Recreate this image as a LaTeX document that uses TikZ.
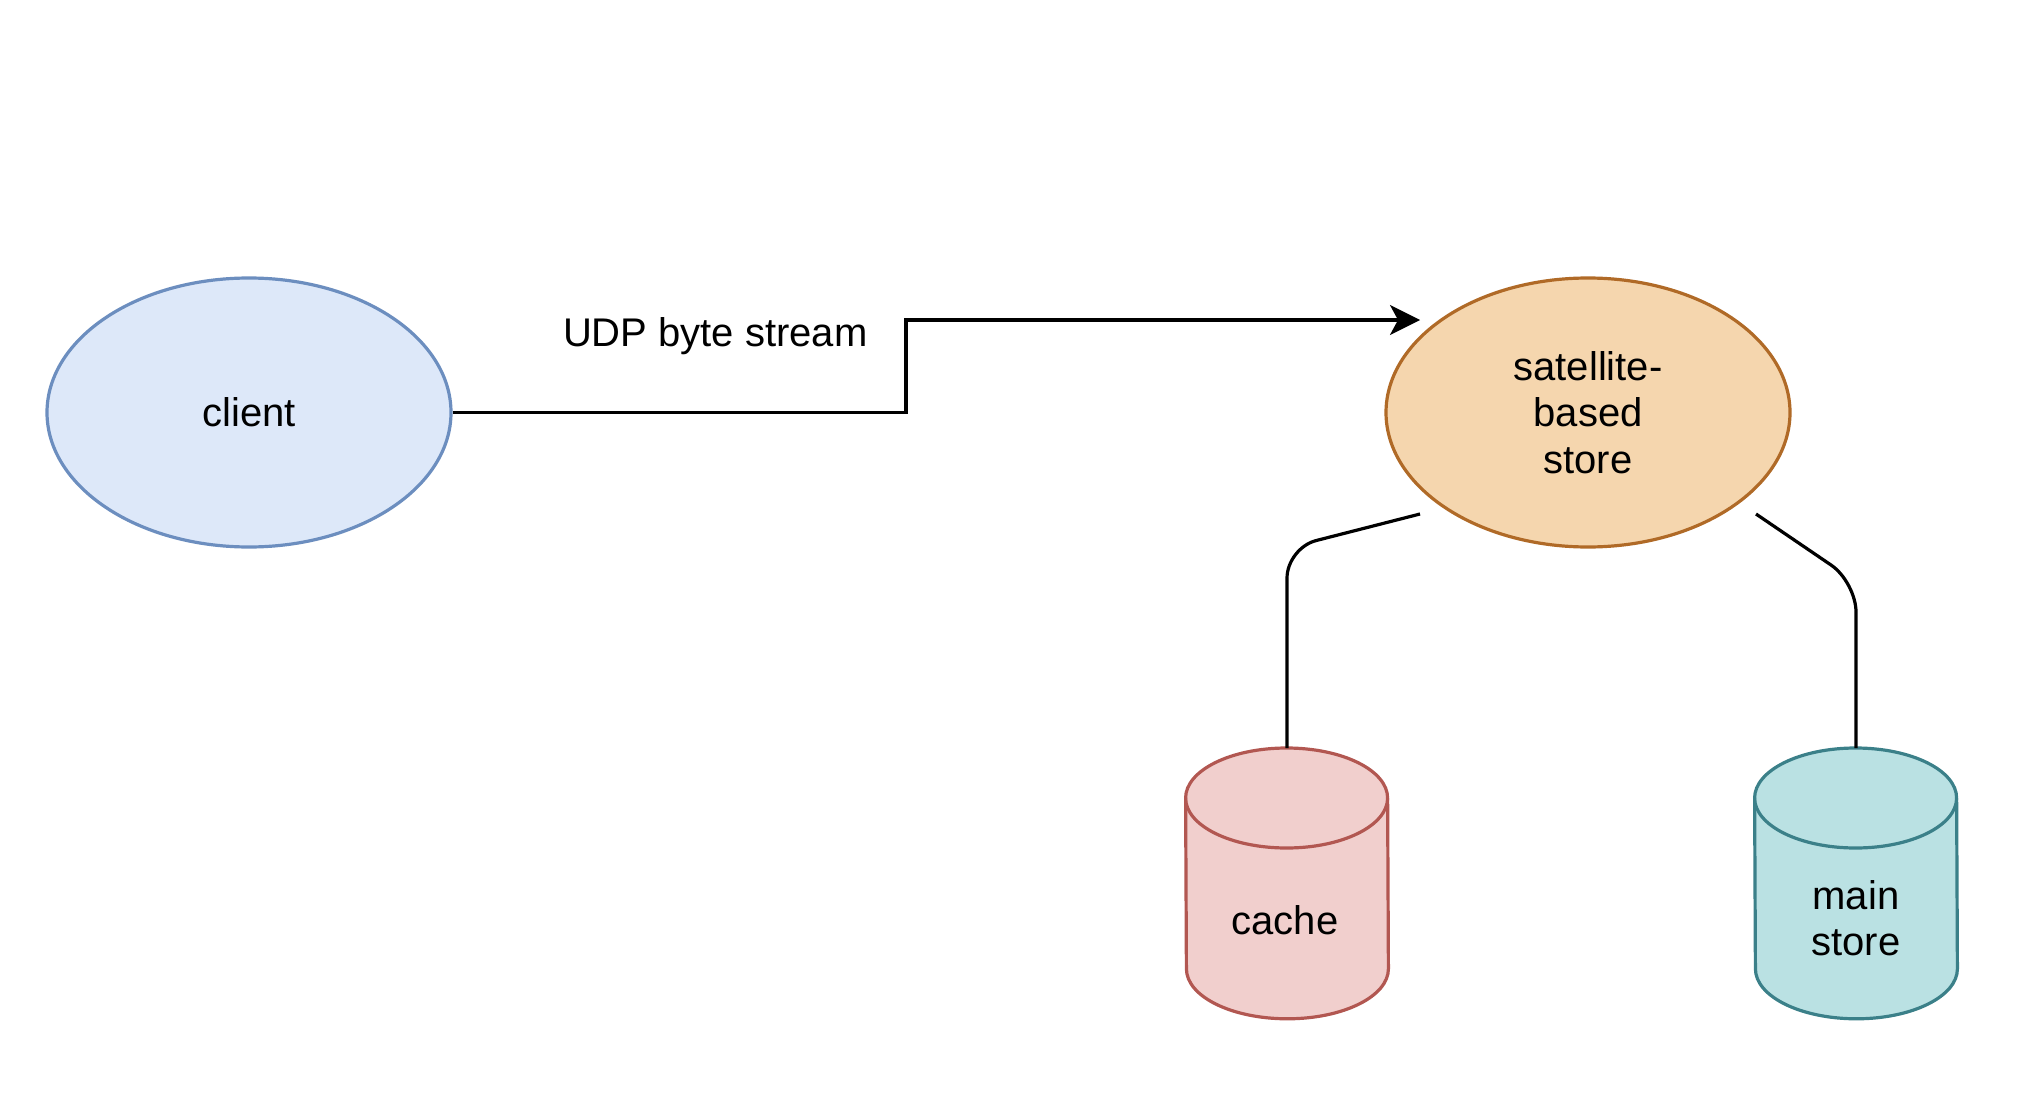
\documentclass[tikz,border=0pt]{standalone}
\usepackage{fontspec}
\setmainfont{Liberation Sans}
\usetikzlibrary{shapes.geometric,arrows.meta}
\definecolor{clientfill}{HTML}{DDE8F9}
\definecolor{clientline}{HTML}{6C8EBF}
\definecolor{storefill}{HTML}{F5D6AE}
\definecolor{storeline}{HTML}{B06A27}
\definecolor{cachefill}{HTML}{F1CFCD}
\definecolor{cacheline}{HTML}{B25751}
\definecolor{mainfill}{HTML}{BAE1E3}
\definecolor{mainline}{HTML}{3B8089}

\begin{document}
\begin{tikzpicture}[x=0.5pt,y=-0.5pt,
					every node/.style = {font=\fontsize{20}{23.25}\selectfont,
						align=center, inner sep=0pt},
					proc/.style = {ellipse, draw, line width=1.6pt,
						minimum width=202pt, minimum height=134.5pt},
					db/.style = {rectangle, minimum width=101pt, minimum height=135pt},
					link/.style = {line width=1.6pt, rounded corners=15pt}]
	\useasboundingbox (0,0) rectangle (2022,1118);
	% processes
	\node[proc, fill=clientfill, draw=clientline] (client) at (249,412.5) {client};
	\node[proc, fill=storefill, draw=storeline] (sat) at (1588,412.5) {satellite-\\based\\store};
	% storage
	\node[db, anchor=north] (cache) at (1287,748) {};
	\node[db, anchor=north] (main) at (1856,748) {};
	\foreach \db/\f/\l in {cache/cachefill/cacheline, main/mainfill/mainline} {
		\path[draw=\l, fill=\f, line width=1.6pt]
			([yshift=-25pt]\db.north west)
			arc[start angle=180, end angle=0, x radius=50.5pt, y radius=25pt]
			-- ([yshift=25pt]\db.south east)
			arc[start angle=0, end angle=-180, x radius=50.5pt, y radius=25pt]
			-- cycle;
		\draw[\l, line width=1.6pt] ([yshift=-25pt]\db.north west)
			arc[start angle=180, end angle=360, x radius=50.5pt, y radius=25pt];
	}
	\node (cachetxt) at (1285,920) {cache};
	\node (maintxt) at (1856,918) {main\\store};
	% connectors
	\coordinate (udpin) at (1420,320);
	\coordinate (cacheout) at (1420,514);
	\coordinate (mainout) at (1756,514);
	\draw[line width=1.6pt, -{Stealth[length=15pt, width=15pt, inset=4pt]}]
		(client.east) -- (906,412.5) -- (906,320) -- (udpin);
	\node[anchor=east] (udp) at (868,336) {UDP byte stream};
	\draw[link] (cacheout) -- (1287,548) -- (cache.north);
	\draw[link] (mainout) -- (1856,582) -- (main.north);
\end{tikzpicture}
\end{document}
